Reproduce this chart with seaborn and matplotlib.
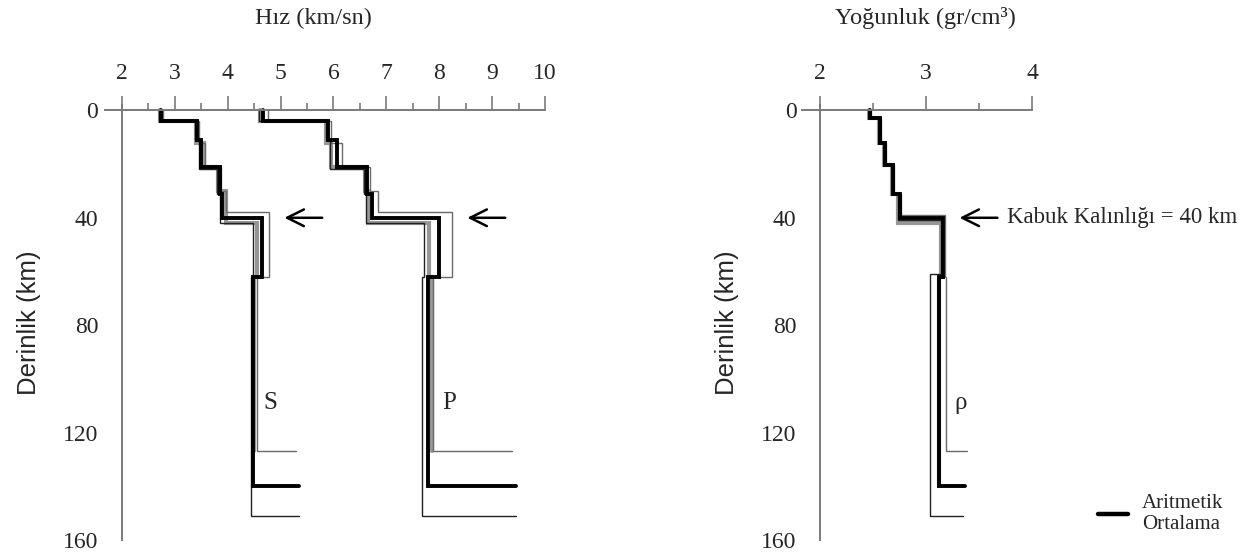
import matplotlib
matplotlib.use("Agg")
import matplotlib.pyplot as plt
import seaborn as sns
import pandas as pd
from matplotlib.lines import Line2D

sns.set_style("white")
plt.rcParams['font.family'] = ['Liberation Serif', 'DejaVu Serif']

# ---------------- data ----------------
# S-wave velocity profiles (km/sn); depth boundaries (km)
S_mean_depth = [0, 4, 11, 21, 31, 40, 62, 140]
S_mean = [2.74, 3.42, 3.50, 3.85, 3.90, 4.65, 4.48]
S_mean_end = 5.35
S_gray_depth = [0, 4, 12, 21, 30, 42, 62, 127]
S_gray = [2.72, 3.40, 3.56, 3.82, 3.96, 4.55, 4.50]
S_hi_depth = [0, 4, 12, 21, 30, 38, 62, 127]
S_hi = [2.78, 3.46, 3.58, 3.88, 3.97, 4.78, 4.55]
S_hi_end = 5.30
S_lo_depth = [0, 4, 11, 22, 31, 42, 62, 151]
S_lo = [2.70, 3.38, 3.45, 3.80, 3.85, 4.48, 4.44]
S_lo_end = 5.35

# P-wave velocity profiles
P_mean_depth = [0, 4, 11, 21, 31, 40, 62, 140]
P_mean = [4.67, 5.90, 6.06, 6.63, 6.73, 8.00, 7.79]
P_mean_end = 9.45
P_gray_depth = [0, 4, 12, 21, 30, 42, 62, 127]
P_gray = [4.62, 5.86, 5.95, 6.60, 6.65, 7.80, 7.87]
P_hi_depth = [0, 4, 12, 21, 30, 38, 62, 127]
P_hi = [4.77, 5.95, 6.16, 6.70, 6.84, 8.25, 7.88]
P_hi_end = 9.37
P_lo_depth = [0, 4, 11, 22, 31, 42, 62, 151]
P_lo = [4.60, 5.85, 5.93, 6.58, 6.62, 7.72, 7.67]
P_lo_end = 9.45

# Density profiles (gr/cm3)
R_mean_depth = [0, 3, 12, 20.5, 31, 40, 62, 140]
R_mean = [2.47, 2.57, 2.61, 2.69, 2.75, 3.16, 3.12]
R_mean_end = 3.37
R_gray_depth = [0, 3, 12, 20.5, 31, 42, 62, 140]
R_gray = [2.46, 2.56, 2.60, 2.68, 2.74, 3.14, 3.12]
R_hi_depth = [0, 3, 12, 20.5, 31, 39, 62, 127]
R_hi = [2.48, 2.58, 2.62, 2.70, 2.76, 3.18, 3.19]
R_hi_end = 3.39
R_lo_depth = [0, 3, 12, 20.5, 31, 41, 61, 151]
R_lo = [2.46, 2.56, 2.60, 2.68, 2.74, 3.14, 3.04]
R_lo_end = 3.35

crust_thickness = 40
x_ticks_v = [2, 3, 4, 5, 6, 7, 8, 9, 10]
x_ticks_r = [2, 3, 4]
y_ticks = [0, 40, 80, 120, 160]


def step_frame(depths, values, end=None):
    xs, ys = [], []
    for i, v in enumerate(values):
        xs += [v, v]
        ys += [depths[i], depths[i + 1]]
    if end is not None:
        xs.append(end)
        ys.append(depths[-1])
    return pd.DataFrame({"v": xs, "d": ys})


def draw(ax, depths, values, end, color, lw):
    df = step_frame(depths, values, end)
    sns.lineplot(data=df, x="v", y="d", sort=False, estimator=None,
                 color=color, lw=lw, ax=ax, solid_joinstyle="miter")


fig = plt.figure(figsize=(12.55, 5.57), dpi=100)
ax1 = fig.add_axes([105 / 1255, 17 / 557, 440 / 1255, 435 / 557])
ax2 = fig.add_axes([802 / 1255, 17 / 557, 230 / 1255, 435 / 557])

GRAY = "#969696"
# Velocity panel
draw(ax1, S_gray_depth, S_gray, None, GRAY, 3.0)
draw(ax1, P_gray_depth, P_gray, None, GRAY, 3.0)
draw(ax1, S_hi_depth, S_hi, S_hi_end, "#6a6a6a", 1.0)
draw(ax1, S_lo_depth, S_lo, S_lo_end, "#222222", 1.0)
draw(ax1, P_hi_depth, P_hi, P_hi_end, "#6a6a6a", 1.0)
draw(ax1, P_lo_depth, P_lo, P_lo_end, "#222222", 1.0)
draw(ax1, S_mean_depth, S_mean, S_mean_end, "black", 2.8)
draw(ax1, P_mean_depth, P_mean, P_mean_end, "black", 2.8)

# Density panel
draw(ax2, R_gray_depth, R_gray, None, GRAY, 3.0)
draw(ax2, R_hi_depth, R_hi, R_hi_end, "#6a6a6a", 1.0)
draw(ax2, R_lo_depth, R_lo, R_lo_end, "#222222", 1.0)
draw(ax2, R_mean_depth, R_mean, R_mean_end, "black", 2.8)

for ax, xl, xt, minor in [(ax1, (1.68, 10), x_ticks_v, [a + 0.5 for a in x_ticks_v[:-1]]),
                          (ax2, (1.83, 4), x_ticks_r, [a + 0.5 for a in x_ticks_r[:-1]])]:
    ax.set_xlim(*xl)
    ax.set_ylim(160, -2)
    ax.set_xlabel("")
    ax.patch.set_alpha(0)
    ax.spines["left"].set_position(("data", 2))
    ax.spines["top"].set_position(("data", 0))
    ax.spines["bottom"].set_visible(False)
    ax.spines["right"].set_visible(False)
    for s in ("left", "top"):
        ax.spines[s].set_color("#7a7a7a")
        ax.spines[s].set_linewidth(1.4)
    ax.xaxis.tick_top()
    ax.set_xticks(xt)
    ax.set_xticks(minor, minor=True)
    ax.set_yticks(y_ticks)
    ax.set_yticks([20, 60, 100, 140], minor=True)
    ax.tick_params(axis="x", which="major", direction="out", length=10, width=1.2,
                   color="#7a7a7a", labelsize=17, pad=9)
    ax.tick_params(axis="x", which="minor", direction="out", length=5, width=1.2,
                   color="#7a7a7a")
    ax.tick_params(axis="y", which="major", direction="out", length=11, width=1.2,
                   color="#7a7a7a", labelsize=17, pad=6)
    ax.tick_params(axis="y", which="minor", direction="out", length=6, width=1.2,
                   color="#7a7a7a")
    ax.set_ylabel("Derinlik (km)", family=["Liberation Sans", "DejaVu Sans"],
                  fontsize=18.5, labelpad=16)
    ax.grid(False)

arrow = dict(arrowstyle="->", lw=1.8, color="black", mutation_scale=30)
ax1.annotate("", xy=(5.02, crust_thickness), xytext=(5.84, crust_thickness), arrowprops=arrow)
ax1.annotate("", xy=(8.48, crust_thickness), xytext=(9.30, crust_thickness), arrowprops=arrow)
ax2.annotate("", xy=(3.29, crust_thickness), xytext=(3.70, crust_thickness), arrowprops=arrow)
ax2.text(3.76, crust_thickness, "Kabuk Kalınlığı = 40 km", fontsize=16.5, va="center",
         ha="left", clip_on=False)

ax1.text(4.80, 109, "S", fontsize=18, ha="center", va="center")
ax1.text(8.18, 109, "P", fontsize=18, ha="center", va="center")
ax2.text(3.33, 109, "ρ", fontsize=18, ha="center", va="center")

fig.text(313 / 1255, 1 - 18 / 557, "Hız (km/sn)", fontsize=17.5, ha="center", va="center")
fig.text(925 / 1255, 1 - 18 / 557, "Yoğunluk (gr/cm³)", fontsize=17.5, ha="center", va="center")

leg = fig.legend(handles=[Line2D([0], [0], color="black", lw=3.2)], labels=["Aritmetik\nOrtalama"],
                 loc="center left", bbox_to_anchor=(1098 / 1255, 1 - 514 / 557),
                 frameon=False, fontsize=15, handlelength=1.45, handletextpad=0.65,
                 borderpad=0, borderaxespad=0, labelspacing=0.2)
for t in leg.get_texts():
    t.set_multialignment("left")

fig.savefig("out.png", dpi=100)
